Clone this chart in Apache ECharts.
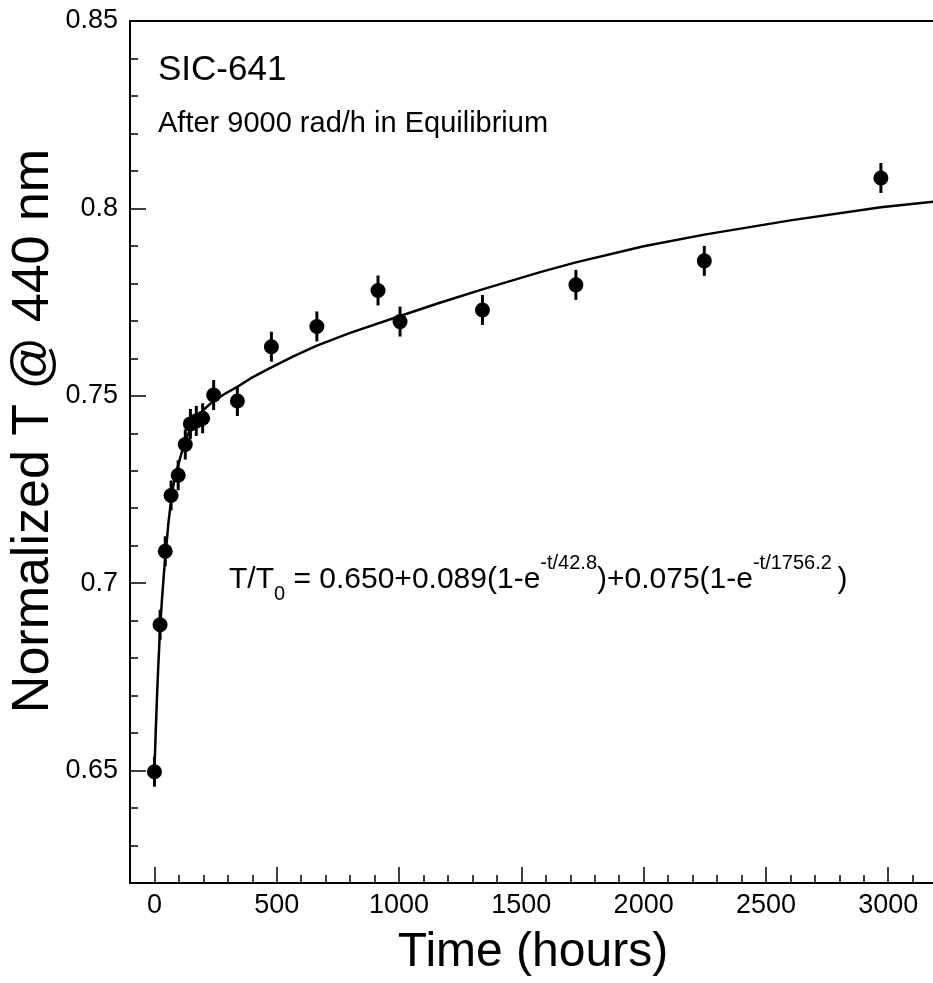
<!DOCTYPE html>
<html>
<head>
<meta charset="utf-8">
<script src="https://cdn.jsdelivr.net/npm/echarts@6/dist/echarts.min.js"></script>
<style>
  html, body { margin: 0; padding: 0; background: #fff; }
  #chart { width: 933px; height: 983px; }
</style>
</head>
<body>
<div id="chart"></div>
<script>
// measured points (hours, normalized transmittance)
const time = [0, 23, 44, 68, 97, 126, 147, 171, 197, 242, 339, 478, 664, 914, 1004, 1341, 1723, 2248, 2970];
const trans = [0.6497, 0.6889, 0.7085, 0.7234, 0.7288, 0.7370, 0.7425, 0.7433, 0.7440, 0.7502, 0.7486,
  0.7631, 0.7685, 0.7781, 0.7698, 0.7729, 0.7796, 0.7860, 0.8081];
const transErr = [0.004, 0.004, 0.004, 0.004, 0.004, 0.004, 0.004, 0.004, 0.004, 0.004, 0.004,
  0.004, 0.004, 0.004, 0.004, 0.004, 0.004, 0.004, 0.004];

// fit curve
const fitTime = [0, 5, 10, 15, 23, 30, 38, 46, 57, 68, 82, 97, 112, 127, 150, 175, 200, 243, 290, 339,
  400, 478, 570, 664, 800, 1004, 1170, 1341, 1577, 1723, 2000, 2248, 2600, 2970, 3183];
const fitValue = [0.650, 0.660, 0.669, 0.677, 0.688, 0.695, 0.702, 0.708, 0.716, 0.722, 0.728, 0.7315,
  0.735, 0.738, 0.7418, 0.7443, 0.7462, 0.7487, 0.7506, 0.7524, 0.7549, 0.7576, 0.7606, 0.7634, 0.7668,
  0.7713, 0.7749, 0.7784, 0.7830, 0.7856, 0.7899, 0.7930, 0.7968, 0.8003, 0.8018];

const xMajor = [0, 500, 1000, 1500, 2000, 2500, 3000];
const yMajor = [0.65, 0.7, 0.75, 0.8, 0.85];

const xMinor = [];
for (let v = 0; v <= 3100; v += 100) xMinor.push(v);
const yMinor = [];
for (let i = 63; i <= 84; i++) yMinor.push(i / 100);

const FONT = '"Liberation Sans", Arial, Helvetica, sans-serif';
const AXIS_LINE = {onZero: false, lineStyle: {color: '#000', width: 2}};

const myChart = echarts.init(document.getElementById('chart'));

const option = {
  animation: false,
  backgroundColor: '#fff',
  textStyle: {fontFamily: FONT, color: '#000'},
  grid: {left: 130, right: 0, top: 21, bottom: 100, containLabel: false},
  xAxis: [
    {
      type: 'value', min: -100, max: 3183, position: 'bottom',
      axisLine: AXIS_LINE,
      axisTick: {inside: true, length: 8, customValues: xMinor, lineStyle: {color: '#000', width: 1.5}},
      axisLabel: {show: false},
      splitLine: {show: false}
    },
    {
      type: 'value', min: -100, max: 3183, position: 'bottom',
      axisLine: {show: false, onZero: false},
      axisTick: {inside: true, length: 16, customValues: xMajor, lineStyle: {color: '#000', width: 1.5}},
      axisLabel: {
        customValues: xMajor, fontSize: 27, fontFamily: FONT, color: '#000', margin: 9,
        formatter: v => String(v)
      },
      splitLine: {show: false}
    },
    {
      type: 'value', min: -100, max: 3183, position: 'top',
      axisLine: AXIS_LINE,
      axisTick: {show: false},
      axisLabel: {show: false},
      splitLine: {show: false}
    }
  ],
  yAxis: [
    {
      type: 'value', min: 0.62, max: 0.85, position: 'left',
      axisLine: AXIS_LINE,
      axisTick: {inside: true, length: 8, customValues: yMinor, lineStyle: {color: '#000', width: 1.5}},
      axisLabel: {show: false},
      splitLine: {show: false}
    },
    {
      type: 'value', min: 0.62, max: 0.85, position: 'left',
      axisLine: {show: false, onZero: false},
      axisTick: {inside: true, length: 16, customValues: yMajor, lineStyle: {color: '#000', width: 1.5}},
      axisLabel: {customValues: yMajor, fontSize: 27, fontFamily: FONT, color: '#000', margin: 12},
      splitLine: {show: false}
    }
  ],
  graphic: [
    {
      type: 'text', left: 158, top: 53,
      style: {text: 'SIC-641', font: '35px ' + FONT, fill: '#000'}
    },
    {
      type: 'text', left: 158, top: 109,
      style: {text: 'After 9000 rad/h in Equilibrium', font: '29px ' + FONT, fill: '#000'}
    },
    {
      type: 'text', x: 229, y: 610,
      style: {
        text: '{n|T/T}{sub|0}{n| = 0.650+0.089(1-e}{sup|-t/42.8}{n|)+0.075(1-e}{sup|-t/1756.2 }{n|)}',
        verticalAlign: 'bottom', align: 'left',
        rich: {
          n: {fontSize: 30, fontFamily: FONT, color: '#000', lineHeight: 30, padding: [0, 0, 15, 0], verticalAlign: 'bottom'},
          sup: {fontSize: 20, fontFamily: FONT, color: '#000', lineHeight: 20, padding: [0, 0, 37, 0], verticalAlign: 'bottom'},
          sub: {fontSize: 20, fontFamily: FONT, color: '#000', lineHeight: 20, padding: [0, 0, 6, 0], verticalAlign: 'bottom'}
        }
      }
    },
    {
      type: 'text', x: 34, y: 431, rotation: Math.PI / 2,
      style: {text: 'Normalized T @ 440 nm', font: '52px ' + FONT, fill: '#000', align: 'center', verticalAlign: 'middle'}
    },
    {
      type: 'text', x: 533, y: 953,
      style: {text: 'Time (hours)', font: '48px ' + FONT, fill: '#000', align: 'center', verticalAlign: 'middle'}
    }
  ],
  series: [
    {
      type: 'custom',
      xAxisIndex: 0, yAxisIndex: 0,
      renderItem: function (params, api) {
        const x = api.value(0), y = api.value(1), e = api.value(2);
        const p1 = api.coord([x, y - e]);
        const p2 = api.coord([x, y + e]);
        return {
          type: 'line',
          shape: {x1: p1[0], y1: p1[1], x2: p2[0], y2: p2[1]},
          style: {stroke: '#000', lineWidth: 3}
        };
      },
      data: time.map((t, i) => [t, trans[i], transErr[i]]),
      z: 3
    },
    {
      type: 'line',
      xAxisIndex: 0, yAxisIndex: 0,
      data: fitTime.map((t, i) => [t, fitValue[i]]),
      smooth: false,
      showSymbol: false,
      lineStyle: {color: '#000', width: 2.5},
      z: 4
    },
    {
      type: 'scatter',
      xAxisIndex: 0, yAxisIndex: 0,
      data: time.map((t, i) => [t, trans[i]]),
      symbol: 'circle',
      symbolSize: 15,
      itemStyle: {color: '#000', opacity: 1},
      z: 5
    }
  ]
};

myChart.setOption(option);
</script>
</body>
</html>
